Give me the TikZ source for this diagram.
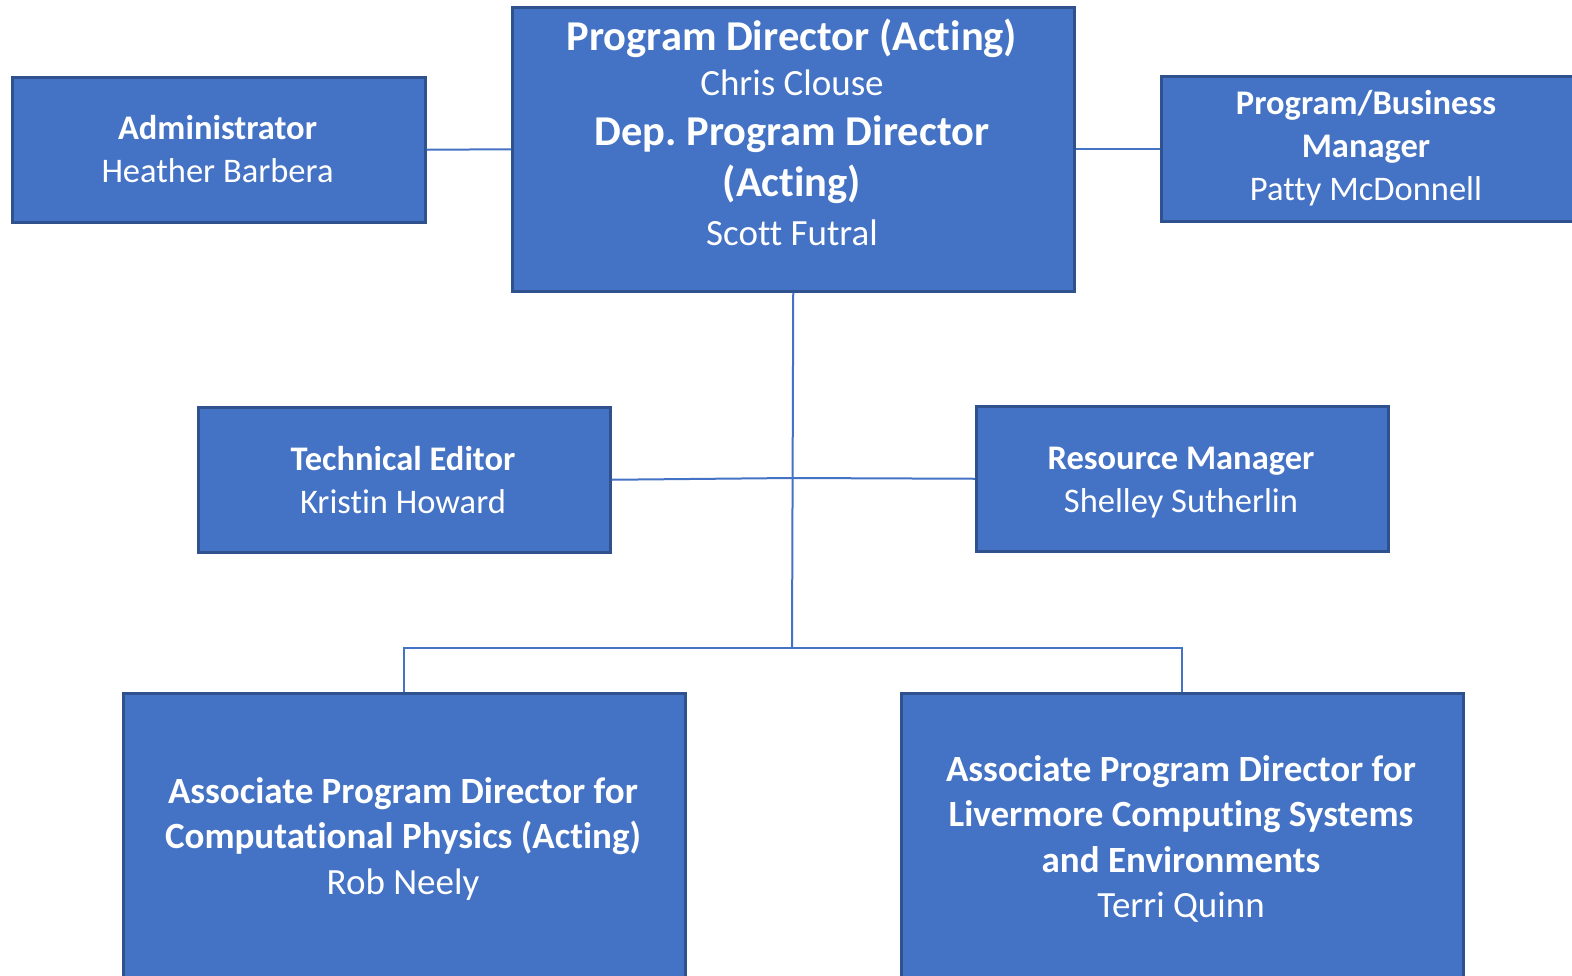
\documentclass[tikz,border=0pt]{standalone}
\usepackage{fontspec}
\setmainfont[Ligatures=NoCommon]{Carlito}
\definecolor{boxfill}{HTML}{4472C4}
\definecolor{boxline}{HTML}{2F528F}
\definecolor{conn}{HTML}{4472C4}
\begin{document}
\frenchspacing
\begin{tikzpicture}[x=1pt,y=-1pt,
  orgbox/.style={draw=boxline,fill=boxfill,line width=2.5pt,inner sep=0pt,anchor=north west},
  txt/.style={text=white,align=center,inner sep=0pt},
  pdline/.style={text=white,inner sep=0pt,anchor=base},
  ttlfont/.style={font=\fontsize{42.5}{50}\selectfont\bfseries},
  nmefont/.style={font=\fontsize{37}{46}\selectfont},
  small/.style={font=\fontsize{34.5}{43}\selectfont},
  big/.style={font=\fontsize{37}{45.5}\selectfont},
  link/.style={draw=conn,line width=2pt}]
\useasboundingbox (0,0) rectangle (1572,975);
\clip (0,0) rectangle (1572,975);
% boxes
\node[orgbox,minimum width=562pt,minimum height=284pt] (pd) at (511,6) {};
\node[orgbox,minimum width=413pt,minimum height=145pt] (adm) at (11,76) {};
\node[orgbox,minimum width=430pt,minimum height=145pt] (pbm) at (1160,75) {};
\node[orgbox,minimum width=412pt,minimum height=145pt] (te) at (197,406) {};
\node[orgbox,minimum width=412pt,minimum height=145pt] (rm) at (975,405) {};
\node[orgbox,minimum width=562pt,minimum height=300pt] (apd1) at (122,692) {};
\node[orgbox,minimum width=562pt,minimum height=300pt] (apd2) at (900,692) {};
% texts
\node[pdline,ttlfont] (pdt1) at (792,50) {Program Director (Acting)};
\node[pdline,nmefont] (pdn1) at (792,95) {Chris Clouse};
\node[pdline,ttlfont] (pdt2) at (792,145) {Dep. Program Director};
\node[pdline,ttlfont] (pdt3) at (792,196) {(Acting)};
\node[pdline,nmefont] (pdn2) at (792,245) {Scott Futral};
\node[txt,small] (admtext) at (217.5,149) {\bfseries Administrator\\Heather Barbera};
\node[txt,small] (pbmtext) at (1366,148) {\bfseries Program/Business\\\bfseries Manager\\Patty McDonnell};
\node[txt,small] (tetext) at (403,480) {\bfseries Technical Editor\\Kristin Howard};
\node[txt,small] (rmtext) at (1181,483) {\bfseries Resource Manager\\Shelley Sutherlin};
\node[txt,big] (apd1text) at (403,838.5) {\bfseries Associate Program Director for\\\bfseries Computational Physics (Acting)\\Rob Neely};
\node[txt,big] (apd2text) at (1181,839) {\bfseries Associate Program Director for\\\bfseries Livermore Computing Systems\\\bfseries and Environments\\Terri Quinn};
% connectors
\coordinate (hub) at (792,478);
\coordinate (bus) at (792,648);
\draw[link] (adm.east) -- (pd.west);
\draw[link] (pd.east) -- (pd.east -| pbm.west);
\draw[link] (pd.south) -- (bus);
\draw[link] (te.east) -- (hub) -- (rm.west);
\draw[link] (apd1.north) |- (bus) -| (apd2.north);
\end{tikzpicture}
\end{document}
